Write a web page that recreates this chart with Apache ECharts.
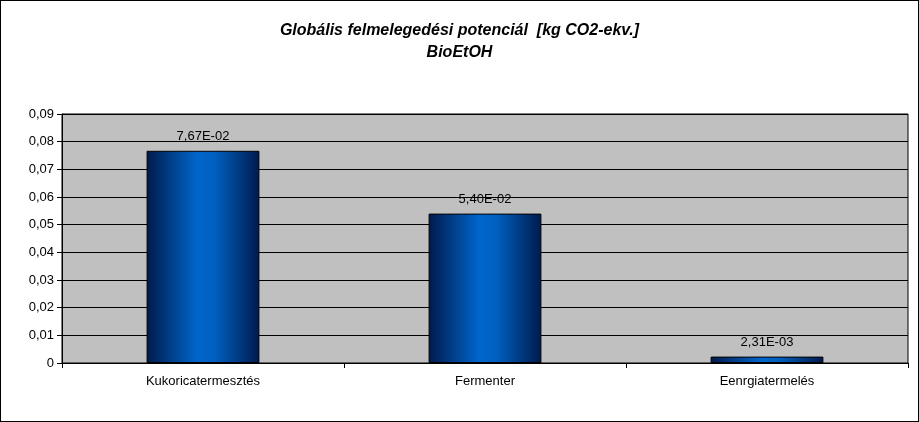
<!DOCTYPE html>
<html><head><meta charset="utf-8">
<script src="https://cdn.jsdelivr.net/npm/echarts@6/dist/echarts.min.js"></script>
<style>html,body{margin:0;padding:0;background:#fff}#c{width:917px;height:420px;border:1px solid #000}</style>
</head><body><div id="c"></div>
<script>
const categories = ['Kukoricatermesztés', 'Fermenter', 'Eenrgiatermelés'];
const values = [0.0767, 0.054, 0.00231];
const valueLabels = ['7,67E-02', '5,40E-02', '2,31E-03'];
const chart = echarts.init(document.getElementById('c'));
chart.setOption({
  animation: false,
  title: {
    text: 'Globális felmelegedési potenciál  [kg CO2-ekv.]\nBioEtOH',
    left: 'center', top: 14,
    textStyle: {fontFamily: 'Arial, Liberation Sans', fontSize: 16, fontWeight: 'bold', fontStyle: 'italic', color: '#000', lineHeight: 22}
  },
  grid: {left: 61, right: 10, top: 113, bottom: 58, show: true, backgroundColor: '#c0c0c0', borderColor: '#000', borderWidth: 1},
  xAxis: {
    type: 'category', data: categories,
    axisLine: {lineStyle: {color: '#000'}},
    axisTick: {show: true, alignWithLabel: false, lineStyle: {color: '#000'}},
    axisLabel: {color: '#000', fontFamily: 'Arial, Liberation Sans', fontSize: 13, margin: 12}
  },
  yAxis: {
    type: 'value', min: 0, max: 0.09, interval: 0.01,
    axisLine: {show: true, lineStyle: {color: '#000'}},
    axisTick: {show: true, lineStyle: {color: '#000'}},
    splitLine: {lineStyle: {color: '#000', width: 1}},
    axisLabel: {color: '#000', fontFamily: 'Arial, Liberation Sans', fontSize: 13,
      formatter: v => v === 0 ? '0' : v.toFixed(2).replace('.', ',')}
  },
  series: [{
    type: 'bar', data: values, barWidth: '40%',
    itemStyle: {
      borderColor: '#000', borderWidth: 1,
      color: new echarts.graphic.LinearGradient(0, 0, 1, 0, [
        {offset: 0, color: '#001a4d'}, {offset: 0.45, color: '#0066cc'},
        {offset: 0.6, color: '#0060c0'}, {offset: 1, color: '#001a4d'}])
    },
    label: {show: true, position: 'top', distance: 8, color: '#000', fontFamily: 'Arial, Liberation Sans', fontSize: 13,
      formatter: p => valueLabels[p.dataIndex]}
  }]
});
</script></body></html>
